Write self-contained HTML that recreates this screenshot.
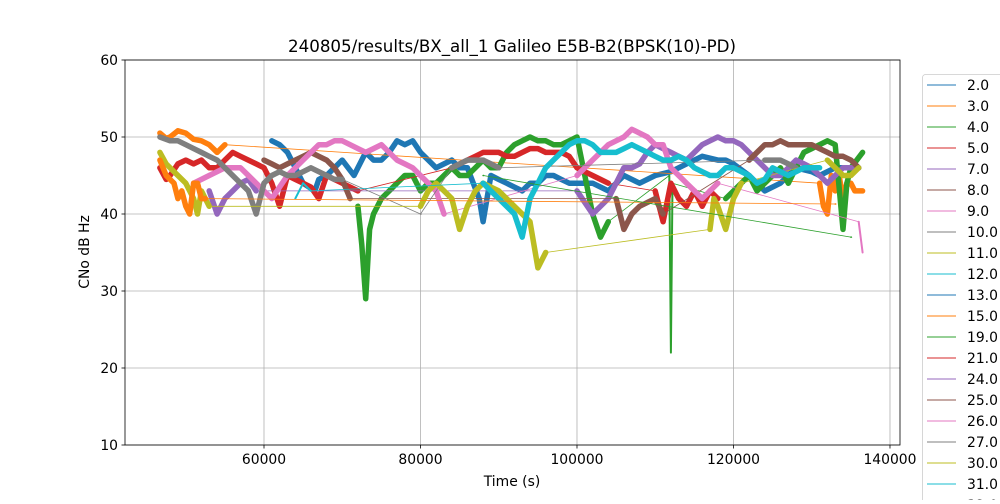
<!DOCTYPE html>
<html><head><meta charset="utf-8">
<style>
html,body{margin:0;padding:0;background:#fff;}
body{width:1000px;height:500px;overflow:hidden;font-family:"DejaVu Sans","Liberation Sans",sans-serif;}
svg text{font-family:"DejaVu Sans","Liberation Sans",sans-serif;}
</style></head>
<body>
<svg id="chart" width="1000" height="500" viewBox="0 0 1000 500" xmlns="http://www.w3.org/2000/svg">
<text x="512" y="52" font-size="16.7" text-anchor="middle" fill="#000">240805/results/BX_all_1 Galileo E5B-B2(BPSK(10)-PD)</text>
<g id="grid"></g>
<g id="series" clip-path="url(#clip)"></g>
<defs><clipPath id="clip"><rect x="125" y="60" width="775" height="385"/></clipPath></defs>
<rect x="125" y="60" width="775" height="385" fill="none" stroke="#000" stroke-width="0.8"/>
<g id="ticks"></g>
<text x="512" y="486" font-size="13.9" text-anchor="middle">Time (s)</text>
<text transform="translate(89,252) rotate(-90)" font-size="13.9" text-anchor="middle">CNo dB Hz</text>
<g id="legend"></g>
</svg>
<script>
// ---- data (time in thousands of seconds, CNo dB-Hz); null = data gap (thin connector)
const yTicks = [10,20,30,40,50,60];
const xTicks = [60000,80000,100000,120000,140000];
const legendLabels = ["2.0","3.0","4.0","5.0","7.0","8.0","9.0","10.0","11.0","12.0","13.0","15.0","19.0","21.0","24.0","25.0","26.0","27.0","30.0","31.0","32.0"];
const palette = ["#1f77b4","#ff7f0e","#2ca02c","#d62728","#9467bd","#8c564b","#e377c2","#7f7f7f","#bcbd22","#17becf"];

const s2_t = [61,62,63,64,65,66.5,67,68,69,70,71.5,72,73,74,75,76,77,78,79,80,81,82,83,84,85,86,87.5,88,89,90,91,92,93,94,95,96,97,98,99,100,102,104,106,108,110,112,113,114,116,118,119,120,122,123,124,126,128,130,131,133,136];
const s2_v = [49.5,49,48,46,44,43,44.5,45,46,47,45,46,48,47,47,48,49.5,49,49.5,48,47,46,46.5,47,46,46,42,39,45,44.5,44,43.5,43,44,44,45,45,44.5,44,44,44,43,45,44,45,45.5,46,46.5,47.5,47,47,46.5,45,44,43,44,46,45.5,45,46,46];
const s3_t = [46.7,47.5,48,49,50,51,52,53,54,55,null,131,131.5,132,132.5,133,133.5,134,134.5,135,135.5,136.5];
const s3_v = [50.5,49.8,50,50.8,50.5,49.7,49.5,49,48,49,null,44,41,40,45,43,45,42,44,44,43,43];
const s4_t = [72,72.5,73,73.5,74,75,76,77,78,79,80,81,82,83,84,85,86,87,88,89,90,91,92,93,94,95,96,97,98,99,100,101,102,103,104,null,111.8,112,112.2,null,119,120,121,122,123,124,125,126,127,128,129,130,131,132,133,134,134.5,135,136.5];
const s4_v = [41,36,29,38,40,42,43,44,45,45,43,44,44,45,46,45,45,46,47,46,46,48,49,49.5,50,49.5,49.5,49,49,49.5,50,45,40,37,39,null,45,22,44,null,42,43,44,45,43,44,45,46,44,46,48,48.5,49,49.5,49,38,44,46,48];
const s5_t = [46.7,47.5,48,49,50,51,52,53,54,55,56,57,58,59,60,61,62,63,64,65,66,67,68,69,70,71,72,null,84,85,86,87,88,89,90,91,92,93,94,95,96,97,98,99,100,101,102,103,104,null,110,111,112,113,114,115,116,117,118];
const s5_v = [46,44.5,45,46.5,47,46.5,47,46,46,47,48,47.5,47,46.5,46,44,41,45,44.5,44,43.5,42,45,44.5,44,43.5,43,null,46,46.5,47,47.5,48,48,48,47.5,47.5,48,48.5,48.5,48,48,48,47.5,46,45.5,45,44.5,44,null,43,39,44,42,41,43,41,43,42];
const s7_t = [53,54,55,56,57,58,59,null,100,101,102,103,104,105,106,107,108,109,110,111,112,113,114,115,116,117,118,119,120,121,122,123,124,125,126,127,128,129,130,131,132,133,134,135,136];
const s7_v = [43,40,42,43,44,44.5,43,null,43,41.5,40,41,42,44,46,46,46.5,48,49,48.5,48,47.5,47,48,49,49.5,50,49.5,49.5,49,48,47,46,45,45,46,47,46.5,46,45,44,45,46,46,46];
const s8_t = [60,61,62,63,64,65,66,67,68,69,70,71,null,105,106,107,108,109,110,111,null,122,123,124,125,126,127,128,129,130,131,132,133,134,135,136];
const s8_v = [47,46.5,46,46.5,47,47.5,48,47.5,47,46,44.5,42,null,42,38,40,41,41.5,42,40,null,47,48,49,49,49.5,49,49,49,49,48.5,48,47.5,47.5,47,46];
const s9_t = [51,52,53,54,55,56,57,58,59,60,61,62,63,64,65,66,67,68,69,70,71,72,73,74,75,76,77,78,79,80,81,82,83,null,100,101,102,103,104,105,106,107,108,109,110,111,112,113,114,115,116,117,118,null,136,136.5];
const s9_v = [44,44.5,45,45.5,46,46,46,45,44,43,42,43.5,45,46,47,48,49,49,49.5,49.5,49,48.5,48,48.5,49,48,47,46.5,46,45,44,43,40,null,45,46,47,48,49,49.5,50,51,50.5,50,49,49,46,45,44,43,42,43,44,null,39,35];
const s10_t = [46.7,48,49,50,51,52,53,54,55,56,57,58,59,60,61,62,63,64,65,66,67,68,69,70,null,80,null,84,85,86,87,88,89,90,null,124,125,126,127,128];
const s10_v = [50,49.5,49.5,49,48.5,48,47.5,47,46,45,44,43,40,44,45,45.5,45,45,45.5,46,45.5,45,44.5,44.5,null,40,null,46,46.5,47,47,47,46.5,46,null,47,47,47,46.5,46];
const s11_t = [46.7,47.5,48,49,50,51,51.5,52,53,null,80,81,82,83,84,85,86,87,88,89,90,91,92,93,94,95,96,null,117,117.5,118,119,120,121,null,132,133,134,135,136];
const s11_v = [48,46.5,46,45,44,42,40,43,41,null,41,43,44,43,42,38,41,43,44,43.5,43,42,41,40,39,33,35,null,38,42,41,38,42,44,null,47,46,45,45,46];
const s12_t = [64,65,66,null,88,89,90,91,92,93,94,95,96,97,98,99,100,101,102,103,104,105,106,107,108,109,110,111,112,113,114,115,116,117,118,119,120,121,122,123,124,125,126,127,128,129,130,131];
const s12_v = [42,44,43,null,44,43,42,41,40,37,42,44,46,47,48,49,49.5,49.5,49,48,48,48,48.5,49,48.5,48,47.5,47,47,47.5,47,46,45.5,45,45,46,46,45.5,45,44,44.5,46,45.5,45,45.5,46,46,46];
const s15_t = [46.7,47.5,48,48.5,49,49.5,50,50.5,51,51.5,52,52.5,null,133];
const s15_v = [47,45,44.5,44,42,43,41,40,44,44,42,42,null,41.3];
const s19_t = [88,null,135];
const s19_v = [45,null,37];

const seriesT = [s2_t,s3_t,s4_t,s5_t,s7_t,s8_t,s9_t,s10_t,s11_t,s12_t,s15_t,s19_t];
const seriesV = [s2_v,s3_v,s4_v,s5_v,s7_v,s8_v,s9_v,s10_v,s11_v,s12_v,s15_v,s19_v];
const seriesColor = [0,1,2,3,4,5,6,7,8,9,1,2];
const seriesName = ["2.0","3.0","4.0","5.0","7.0","8.0","9.0","10.0","11.0","12.0","15.0","19.0"];

// ---- axes
const X0=125,X1=900,Y0=445,Y1=60;
const xMin=42236,xMax=141280,yMin=10,yMax=60;
const xs = t => X0 + (t-xMin)/(xMax-xMin)*(X1-X0);
const ys = v => Y0 - (v-yMin)/(yMax-yMin)*(Y0-Y1);
const NS="http://www.w3.org/2000/svg";
function mk(tag, attrs, parent){const e=document.createElementNS(NS,tag);for(const k in attrs)e.setAttribute(k,attrs[k]);parent.appendChild(e);return e;}
const grid=document.getElementById('grid'), ticks=document.getElementById('ticks');
yTicks.forEach(v=>{
  const g=mk('line',{x1:X0,x2:X1,y1:ys(v),y2:ys(v),stroke:'#b0b0b0','stroke-width':0.8},grid);
  
  
  mk('line',{x1:X0-3.5,x2:X0,y1:ys(v),y2:ys(v),stroke:'#000','stroke-width':0.8},ticks);
  const t=mk('text',{x:X0-7,y:ys(v)+5,'font-size':13.9,'text-anchor':'end'},ticks);
  t.textContent=v;
  
  
});
xTicks.forEach(v=>{
  const g=mk('line',{x1:xs(v),x2:xs(v),y1:Y0,y2:Y1,stroke:'#b0b0b0','stroke-width':0.8},grid);
  
  
  mk('line',{x1:xs(v),x2:xs(v),y1:Y0,y2:Y0+3.5,stroke:'#000','stroke-width':0.8},ticks);
  const t=mk('text',{x:xs(v),y:Y0+19,'font-size':13.9,'text-anchor':'middle'},ticks);
  t.textContent=v;
  
  
});

// ---- series
const sg=document.getElementById('series');
seriesT.forEach((T,i)=>{
  const V=seriesV[i], col=palette[seriesColor[i]];
  const g=mk('g',{},sg);
  
  
  let seg=[], segs=[], last=null, conns=[];
  for(let k=0;k<T.length;k++){
    if(T[k]===null){ if(seg.length) segs.push(seg); seg=[]; continue; }
    const p=[xs(T[k]*1000),ys(V[k])];
    if(seg.length===0 && last) conns.push([last,p]);
    seg.push(p); last=p;
  }
  if(seg.length) segs.push(seg);
  conns.forEach(c=>{
    const l=mk('line',{x1:c[0][0],y1:c[0][1],x2:c[1][0],y2:c[1][1],stroke:col,'stroke-width':0.8},g);
    
    
  });
  segs.forEach(s=>{
    const d=s.length===1?('M'+s[0][0]+','+s[0][1]+'l0.5,0'):s.map((p,j)=>(j?'L':'M')+p[0].toFixed(1)+','+p[1].toFixed(1)).join('');
    const w = s.length===1?1.5:(s.length<=3?2:5.5);
    const p=mk('path',{d:d,fill:'none',stroke:col,'stroke-width':w,'stroke-linejoin':'round','stroke-linecap':'round'},g);
    
    
  });
});

// ---- legend
const lg=document.getElementById('legend');
const box=mk('rect',{x:922.5,y:74.5,width:90,height:440,rx:3,fill:'#fff',stroke:'#ccc','stroke-width':0.8},lg);


legendLabels.forEach((lab,i)=>{
  const y=85+i*21;
  const g=mk('g',{},lg);
  
  
  mk('line',{x1:927,x2:956,y1:y,y2:y,stroke:palette[i%10],'stroke-width':1},g);
  const t=mk('text',{x:967,y:y+5,'font-size':13.9},g);
  t.textContent=lab;
});
</script>
</body></html>
